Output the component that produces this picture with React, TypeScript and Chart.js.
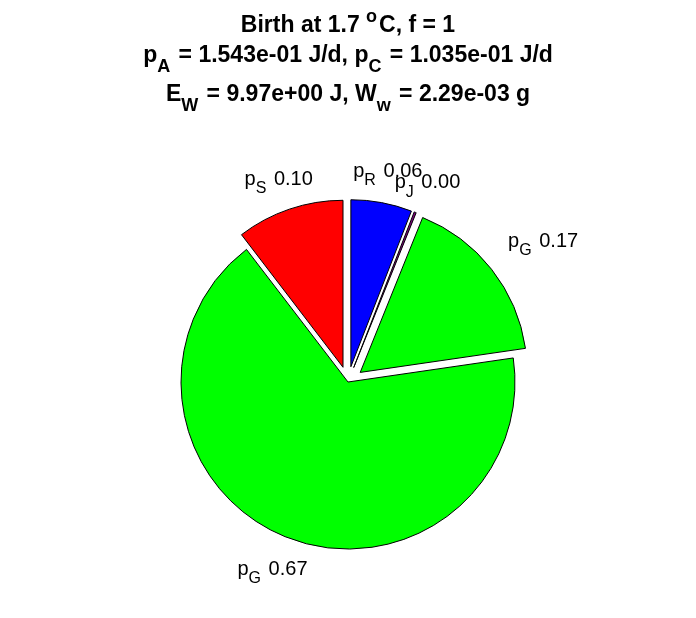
import React, { useEffect, useRef } from 'react';
import { Chart, registerables } from 'chart.js';

Chart.register(...registerables);

// ---- data ----
const sliceNames = ['R', 'J', 'G', 'G', 'S'];
const sliceValues = [0.059, 0.002, 0.166, 0.669, 0.104];
const sliceColors = ['#0000ff', '#800080', '#00ff00', '#00ff00', '#ff0000'];
const sliceExploded = [true, true, true, false, true];

type Seg = [string, 'n' | 'sub' | 'sup'];
const titleLine1: Seg[] = [['Birth at 1.7 ', 'n'], ['o', 'sup'], ['C, f = 1', 'n']];
const titleLine2: Seg[] = [['p', 'n'], ['A', 'sub'], [' = 1.543e-01 J/d, p', 'n'], ['C', 'sub'], [' = 1.035e-01 J/d', 'n']];
const titleLine3: Seg[] = [['E', 'n'], ['W', 'sub'], [' = 9.97e+00 J, W', 'n'], ['w', 'sub'], [' = 2.29e-03 g', 'n']];
const titleLines = [titleLine1, titleLine2, titleLine3];

// ---- styling ----
const W = 696;
const H = 618;
const FONT_FAMILY = '"Liberation Sans", Arial, Helvetica, sans-serif';
const TITLE_SIZE = 23;
const TITLE_BASELINES = [32, 62, 101];
const LABEL_SIZE = 20;
const SUB_SCALE = 0.8;
const SCRIPT_GAP = 2;
const EXPLODE = 0.093;
const PIE_RADIUS = 167;

function segFont(size: number, bold: boolean, mode: string) {
  const s = mode === 'n' ? size : Math.round(size * SUB_SCALE);
  return `${bold ? 'bold ' : ''}${s}px ${FONT_FAMILY}`;
}

function segAdvance(ctx: CanvasRenderingContext2D, t: string, m: string) {
  return ctx.measureText(t).width + (m === 'n' ? 0 : SCRIPT_GAP);
}

function measureSegs(ctx: CanvasRenderingContext2D, segs: Seg[], size: number, bold: boolean) {
  let w = 0;
  for (const [t, m] of segs) {
    ctx.font = segFont(size, bold, m);
    w += segAdvance(ctx, t, m);
  }
  return w;
}

function drawSegs(ctx: CanvasRenderingContext2D, segs: Seg[], size: number, bold: boolean, cx: number, baseline: number) {
  const total = measureSegs(ctx, segs, size, bold);
  let x = cx - total / 2;
  ctx.textAlign = 'left';
  ctx.textBaseline = 'alphabetic';
  for (const [t, m] of segs) {
    ctx.font = segFont(size, bold, m);
    let y = baseline;
    if (m === 'sub') y += size * 0.42;
    if (m === 'sup') y -= size * 0.45;
    ctx.fillText(t, x, y);
    x += segAdvance(ctx, t, m);
  }
  return total;
}

const explodePlugin = {
  id: 'explodeSlices',
  afterDatasetsUpdate(chart: any) {
    const meta = chart.getDatasetMeta(0);
    meta.data.forEach((arc: any, i: number) => {
      if (!sliceExploded[i]) return;
      const mid = (arc.startAngle + arc.endAngle) / 2;
      const d = arc.outerRadius * EXPLODE;
      arc.x += Math.cos(mid) * d;
      arc.y += Math.sin(mid) * d;
    });
  },
};

const labelPlugin = {
  id: 'pieLabels',
  afterDatasetsDraw(chart: any) {
    const ctx: CanvasRenderingContext2D = chart.ctx;
    const meta = chart.getDatasetMeta(0);
    const total = sliceValues.reduce((a, b) => a + b, 0);
    ctx.save();
    ctx.fillStyle = '#000';
    meta.data.forEach((arc: any, i: number) => {
      const segs: Seg[] = [['p', 'n'], [sliceNames[i], 'sub'], [' ' + (sliceValues[i] / total).toFixed(2), 'n']];
      const w = measureSegs(ctx, segs, LABEL_SIZE, false);
      const h = LABEL_SIZE * 1.2;
      const mid = (arc.startAngle + arc.endAngle) / 2;
      const r = arc.outerRadius;
      let D = 1.2 * r;
      const boxDist = (dd: number) => {
        const ax = arc.x + Math.cos(mid) * dd;
        const ay = arc.y + Math.sin(mid) * dd;
        const nx = Math.max(ax - w / 2, Math.min(arc.x, ax + w / 2));
        const ny = Math.max(ay - h / 2, Math.min(arc.y, ay + h / 2));
        return Math.hypot(nx - arc.x, ny - arc.y);
      };
      let dx = 0;
      if (boxDist(D) < 1.04 * r) {
        D += h * 0.6;
        dx = Math.sign(Math.cos(mid)) * w * 0.2;
      }
      const ax = arc.x + Math.cos(mid) * D + dx;
      const ay = arc.y + Math.sin(mid) * D;
      drawSegs(ctx, segs, LABEL_SIZE, false, ax, ay + LABEL_SIZE * 0.36);
    });
    ctx.restore();
  },
};

const titlePlugin = {
  id: 'texTitle',
  afterDraw(chart: any) {
    const ctx: CanvasRenderingContext2D = chart.ctx;
    ctx.save();
    ctx.fillStyle = '#000';
    titleLines.forEach((line, i) => {
      drawSegs(ctx, line, TITLE_SIZE, true, W / 2, TITLE_BASELINES[i]);
    });
    ctx.restore();
  },
};

export default function App() {
  const ref = useRef<HTMLCanvasElement | null>(null);
  useEffect(() => {
    if (!ref.current) return;
    const chart = new Chart(ref.current, {
      type: 'pie',
      data: {
        labels: sliceNames.map((n) => 'p_' + n),
        datasets: [
          {
            data: sliceValues,
            backgroundColor: sliceColors,
            borderColor: '#000000',
            borderWidth: 1,
          },
        ],
      },
      options: {
        animation: false,
        responsive: false,
        radius: PIE_RADIUS,
        layout: { padding: { top: 146, bottom: 0, left: 0, right: 0 } },
        plugins: {
          legend: { display: false },
          tooltip: { enabled: false },
          title: { display: false },
        },
        events: [],
      } as any,
      plugins: [explodePlugin, labelPlugin, titlePlugin],
    });
    return () => chart.destroy();
  }, []);
  return (
    <div style={{ position: 'fixed', left: 0, top: 0, width: W, height: H, background: '#fff' }}>
      <canvas ref={ref} width={W} height={H} style={{ width: W, height: H, display: 'block' }} />
    </div>
  );
}
